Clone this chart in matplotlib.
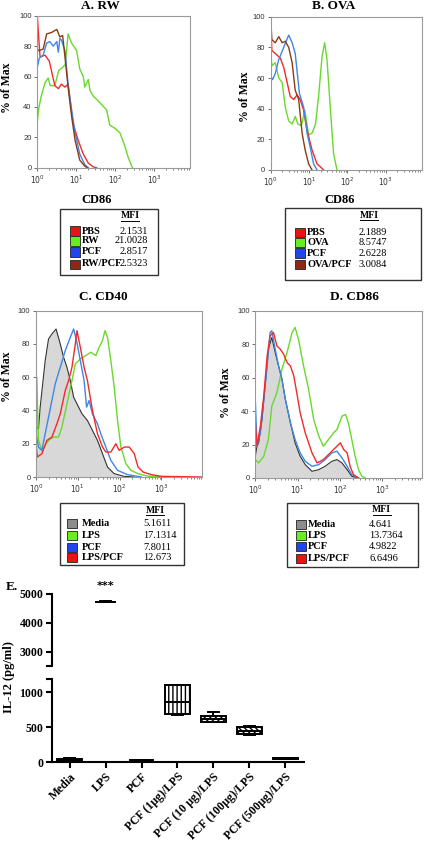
import numpy as np
import matplotlib
matplotlib.use("Agg")
import matplotlib.pyplot as plt
from matplotlib.patches import Rectangle
from matplotlib.lines import Line2D
from matplotlib.ticker import LogLocator, LogFormatterMathtext, NullFormatter

W, H = 424, 850
SERIF = ["Liberation Serif", "DejaVu Serif"]
SANS = ["Liberation Sans", "DejaVu Sans"]
plt.rcParams["hatch.linewidth"] = 1.0

RED = "#f22a2a"
GREEN = "#6ad82c"
BLUE = "#3f86e8"
BROWN = "#8a3b14"
GREY_LINE = "#333333"
GREY_FILL = "#d8d8d8"
SQ_RED, SQ_GREEN, SQ_BLUE, SQ_BROWN, SQ_GREY = "#ee1111", "#66ee22", "#2244ee", "#8b2a10", "#8c8c8c"

# ---- panel A (RW), x = log10(CD86), y = % of max
a_pbs_lx = [0, 0, 0.03, 0.07, 0.2, 0.31, 0.37, 0.45, 0.54, 0.62, 0.71, 0.79, 0.84, 0.92, 1.05, 1.18, 1.31, 1.44, 1.52]
a_pbs_y = [0, 100, 88, 73, 74, 70, 63, 54, 52, 55, 53, 55, 45, 29, 18, 9, 3, 0.5, 0]
a_rw_lx = [0, 0.03, 0.1, 0.2, 0.28, 0.33, 0.45, 0.55, 0.65, 0.72, 0.79, 0.88, 1.01, 1.09, 1.18, 1.22, 1.31, 1.35,
           1.44, 1.56, 1.78, 1.86, 1.99, 2.12, 2.25, 2.33, 2.44]
a_rw_y = [30, 38, 47, 56, 59, 54, 54, 64, 66, 68, 88, 82, 77, 65, 60, 53, 58, 51, 47, 44, 38, 28, 26, 23, 14, 7, 0]
a_pcf_lx = [0, 0.05, 0.15, 0.24, 0.32, 0.41, 0.5, 0.54, 0.58, 0.62, 0.71, 0.79, 0.88, 0.97, 1.09, 1.22, 1.31]
a_pcf_y = [66, 72, 74, 82, 83, 80, 83, 76, 85, 84, 77, 55, 38, 23, 9, 2, 0]
a_rwpcf_lx = [0, 0.03, 0.15, 0.24, 0.37, 0.5, 0.58, 0.65, 0.71, 0.79, 0.88, 0.97, 1.09, 1.22, 1.28]
a_rwpcf_y = [78, 77, 78, 88, 89, 91, 86, 87, 73, 53, 34, 18, 5, 1, 0]

# ---- panel B (OVA)
b_pbs_lx = [0, 0, 0.03, 0.12, 0.25, 0.34, 0.43, 0.51, 0.6, 0.69, 0.77, 0.86, 0.95, 1.08, 1.21, 1.3, 1.38]
b_pbs_y = [0, 98, 78, 76, 73, 67, 57, 48, 46, 49, 46, 39, 26, 13, 4, 2, 0]
b_ova_lx = [0, 0.03, 0.12, 0.21, 0.3, 0.38, 0.47, 0.56, 0.64, 0.71, 0.8, 0.89, 0.99, 1.08, 1.17, 1.25, 1.34, 1.41,
            1.47, 1.56, 1.64, 1.73]
b_ova_y = [78, 68, 70, 60, 57, 41, 32, 30, 35, 30, 29, 39, 23, 24, 30, 48, 74, 83, 72, 39, 11, 0]
b_pcf_lx = [0, 0.05, 0.12, 0.21, 0.34, 0.47, 0.56, 0.64, 0.75, 0.86, 0.95, 1.03, 1.12, 1.21]
b_pcf_y = [61, 59, 63, 72, 80, 88, 83, 76, 50, 41, 24, 15, 4, 0]
b_ovapcf_lx = [0, 0, 0.03, 0.12, 0.21, 0.3, 0.38, 0.47, 0.56, 0.64, 0.73, 0.82, 0.9, 0.99, 1.08]
b_ovapcf_y = [0, 99, 85, 83, 87, 83, 84, 80, 70, 52, 46, 24, 13, 4, 0]

# ---- panel C (CD40)
c_media_lx = [0, 0, 0.02, 0.06, 0.1, 0.16, 0.22, 0.3, 0.38, 0.48, 0.58, 0.66, 0.74, 0.82, 0.9, 0.98, 1.1, 1.23,
              1.35, 1.47, 1.59, 1.71, 1.87, 2.11, 2.35]
c_media_y = [0, 75, 30, 29, 42, 56, 70, 83, 86, 89, 80, 72, 66, 58, 48, 44, 38, 34, 28, 22, 14, 6, 2, 0.4, 0]
c_lps_lx = [0, 0.02, 0.06, 0.14, 0.3, 0.42, 0.54, 0.62, 0.74, 0.86, 0.94, 1.06, 1.19, 1.31, 1.43, 1.51, 1.59, 1.65,
            1.71, 1.79, 1.87, 1.95, 2.03, 2.15, 2.27, 2.44, 2.68, 3.16]
c_lps_y = [0, 60, 22, 16, 22, 24, 24, 30, 44, 58, 68, 71, 73, 75, 73, 78, 82, 88, 84, 70, 54, 34, 18, 8, 4, 2, 0.5, 0]
c_pcf_lx = [0, 0.06, 0.14, 0.22, 0.3, 0.38, 0.46, 0.58, 0.7, 0.82, 0.9, 0.97, 1.06, 1.15, 1.21, 1.27, 1.35, 1.47,
            1.55, 1.67, 1.79, 1.95, 2.19, 2.52]
c_pcf_y = [26, 18, 16, 26, 36, 46, 56, 66, 76, 84, 89, 82, 70, 58, 42, 46, 38, 32, 26, 18, 10, 4, 1.4, 0]
c_lpspcf_lx = [0, 0.03, 0.14, 0.26, 0.38, 0.5, 0.58, 0.7, 0.78, 0.86, 0.94, 0.98, 1.06, 1.15, 1.23, 1.35, 1.47,
               1.59, 1.67, 1.79, 1.91, 1.99, 2.11, 2.23, 2.35, 2.44, 2.56, 2.76, 3.0, 3.97]
c_lpspcf_y = [20, 12, 14, 22, 24, 32, 38, 52, 58, 66, 80, 88, 78, 66, 58, 40, 26, 18, 15, 15, 20, 16, 18, 18, 14,
              6, 3, 1.4, 0.4, 0]

# ---- panel D (CD86)
d_media_lx = [0, 0.04, 0.08, 0.16, 0.24, 0.31, 0.39, 0.47, 0.55, 0.63, 0.71, 0.83, 0.94, 1.06, 1.18, 1.34, 1.5,
              1.65, 1.81, 1.93, 2.05, 2.17, 2.28, 2.44]
d_media_y = [13, 19, 21, 35, 57, 77, 84, 75, 67, 59, 47, 33, 21, 13, 8, 4, 5, 7, 10, 11, 9, 5, 1, 0]
d_lps_lx = [0, 0.08, 0.2, 0.31, 0.39, 0.51, 0.63, 0.75, 0.87, 0.94, 1.02, 1.14, 1.26, 1.38, 1.5, 1.61, 1.73, 1.85,
            1.93, 2.05, 2.13, 2.2, 2.28, 2.36, 2.44, 2.52, 2.6]
d_lps_y = [11, 9, 13, 23, 43, 51, 65, 75, 87, 90, 83, 67, 53, 35, 25, 19, 23, 27, 29, 37, 38, 33, 23, 13, 5, 1, 0]
d_pcf_lx = [0, 0.04, 0.12, 0.2, 0.28, 0.35, 0.39, 0.47, 0.55, 0.63, 0.71, 0.83, 0.94, 1.06, 1.18, 1.34, 1.5, 1.65,
            1.81, 1.93, 2.05, 2.17, 2.28, 2.44]
d_pcf_y = [47, 19, 27, 47, 67, 87, 88, 77, 67, 59, 47, 33, 23, 15, 10, 7, 8, 11, 15, 16, 12, 7, 2, 0]
d_lpspcf_lx = [0, 0.04, 0.12, 0.2, 0.28, 0.35, 0.43, 0.51, 0.59, 0.67, 0.75, 0.83, 0.91, 0.98, 1.06, 1.18, 1.34,
               1.46, 1.61, 1.77, 1.93, 2.01, 2.09, 2.17, 2.24, 2.32, 2.44]
d_lpspcf_y = [33, 19, 31, 49, 73, 85, 87, 79, 77, 74, 69, 67, 61, 51, 39, 27, 15, 9, 11, 15, 19, 21, 17, 15, 7, 2, 0]

# ---- legends (MFI)
a_names = ["PBS", "RW", "PCF", "RW/PCF"]
a_mfi = ["2.1531", "21.0028", "2.8517", "2.5323"]
b_names = ["PBS", "OVA", "PCF", "OVA/PCF"]
b_mfi = ["2.1889", "8.5747", "2.6228", "3.0084"]
c_names = ["Media", "LPS", "PCF", "LPS/PCF"]
c_mfi = ["5.1611", "17.1314", "7.8011", "12.673"]
d_names = ["Media", "LPS", "PCF", "LPS/PCF"]
d_mfi = ["4.641", "13.7364", "4.9822", "6.6496"]

# ---- panel E, IL-12 (pg/ml)
e_labels = ["Media", "LPS", "PCF", "PCF (1µg)/LPS", "PCF (10 µg)/LPS", "PCF (100µg)/LPS", "PCF (500µg)/LPS"]
e_min = [25, 4725, 10, 676, 575, 395, 48]
e_q1 = [30, 4730, 15, 690, 582, 400, 52]
e_med = [40, 4735, 25, 857, 620, 450, 58]
e_q3 = [50, 4740, 35, 1100, 660, 500, 64]
e_max = [55, 4745, 40, 1105, 723, 515, 66]
e_hatch = [None, None, None, "||||", "//////", "\\\\\\\\\\\\", None]

fig = plt.figure(figsize=(W / 100, H / 100), dpi=100)


def px_axes(x0, y0, x1, y1):
    return fig.add_axes([x0 / W, 1 - y1 / H, (x1 - x0) / W, (y1 - y0) / H])


def ftext(x, y, s, **kw):
    kw.setdefault("family", SERIF)
    kw.setdefault("ha", "center")
    kw.setdefault("va", "center")
    fig.text(x / W, 1 - y / H, s, **kw)


def histo(rect, xmax_dec, curves, media=None):
    ax = px_axes(*rect)
    if media is not None:
        mx = 10 ** np.array(media[0])
        ax.fill_between(mx, media[1], color=GREY_FILL, lw=0)
        ax.plot(mx, media[1], color=GREY_LINE, lw=0.8)
    for lx, y, col in curves:
        ax.plot(10 ** np.array(lx), y, color=col, lw=1.0)
    ax.set_xscale("log")
    ax.set_xlim(1, 10 ** xmax_dec)
    ax.set_ylim(0, 100)
    ax.set_yticks([0, 20, 40, 60, 80, 100])
    ax.xaxis.set_major_locator(LogLocator(base=10, numticks=10))
    ax.xaxis.set_major_formatter(LogFormatterMathtext())
    ax.xaxis.set_minor_locator(LogLocator(base=10, subs=np.arange(2, 10), numticks=20))
    ax.xaxis.set_minor_formatter(NullFormatter())
    for sp in ax.spines.values():
        sp.set_color("#9a9a9a")
        sp.set_linewidth(0.8)
    ax.tick_params(axis="both", which="major", length=2.5, width=0.6, color="#555555",
                   labelsize=5.5, labelcolor="#333333", pad=1.5)
    ax.tick_params(axis="x", which="minor", length=1.5, width=0.5, color="#555555")
    for lab in ax.get_yticklabels():
        lab.set_family(SANS)
    return ax


histo((37.3, 15.7, 190, 167.7), 3.92,
      [(a_rw_lx, a_rw_y, GREEN), (a_pbs_lx, a_pbs_y, RED), (a_pcf_lx, a_pcf_y, BLUE),
       (a_rwpcf_lx, a_rwpcf_y, BROWN)])
histo((270.7, 16.7, 422, 170), 3.95,
      [(b_ova_lx, b_ova_y, GREEN), (b_pbs_lx, b_pbs_y, RED), (b_pcf_lx, b_pcf_y, BLUE),
       (b_ovapcf_lx, b_ovapcf_y, BROWN)])
histo((36, 310.7, 202, 477), 3.97,
      [(c_lps_lx, c_lps_y, GREEN), (c_pcf_lx, c_pcf_y, BLUE), (c_lpspcf_lx, c_lpspcf_y, RED)],
      media=(c_media_lx, c_media_y))
histo((255.3, 310.7, 422, 478), 3.94,
      [(d_lps_lx, d_lps_y, GREEN), (d_pcf_lx, d_pcf_y, BLUE), (d_lpspcf_lx, d_lpspcf_y, RED)],
      media=(d_media_lx, d_media_y))

# titles and axis labels
for x, y, s in [(100, 6, "A. RW"), (334, 6, "B. OVA"), (103, 297, "C. CD40"), (354, 297, "D. CD86")]:
    ftext(x, y, s, fontsize=9.5, weight="bold")
for x, y in [(97, 200), (340, 200)]:
    ftext(x, y, "CD86", fontsize=9, weight="bold")
for x, y in [(7, 88), (245, 97), (7, 377), (226, 393)]:
    ftext(x, y, "% of Max", fontsize=8.5, weight="bold", rotation=90)


def legend_box(box, mfi_x, rows_y, sq_x, name_x, val_x, val_ha, names, values, colors):
    x0, y0, x1, y1 = box
    fig.add_artist(Rectangle((x0 / W, 1 - y1 / H), (x1 - x0) / W, (y1 - y0) / H,
                             transform=fig.transFigure, fill=False, ec="#333333", lw=1.0))
    mfi_y = y0 + 7
    ftext(mfi_x, mfi_y, "MFI", fontsize=7, weight="bold")
    fig.add_artist(Line2D([(mfi_x - 9) / W, (mfi_x + 9) / W], [1 - (mfi_y + 5) / H] * 2,
                          transform=fig.transFigure, color="black", lw=0.7))
    for ry, nm, val, col in zip(rows_y, names, values, colors):
        fig.add_artist(Rectangle((sq_x / W, 1 - (ry + 4.5) / H), 10 / W, 9 / H,
                                 transform=fig.transFigure, fc=col, ec="#222222", lw=0.6))
        ftext(name_x, ry, nm, fontsize=7.5, weight="bold", ha="left")
        ftext(val_x, ry, val, fontsize=7.5, ha=val_ha)


legend_box((60, 209, 158, 275), 130, [231, 241, 252, 264], 70, 81.5, 147.5, "right",
           a_names, a_mfi, [SQ_RED, SQ_GREEN, SQ_BLUE, SQ_BROWN])
legend_box((284.7, 208, 421, 280), 369, [232.5, 242.5, 253, 264.5], 294.5, 307, 387, "right",
           b_names, b_mfi, [SQ_RED, SQ_GREEN, SQ_BLUE, SQ_BROWN])
legend_box((60, 503.3, 184, 565), 155, [523.5, 535.7, 547.5, 557.5], 66.7, 81.7, 143.3, "left",
           c_names, c_mfi, [SQ_GREY, SQ_GREEN, SQ_BLUE, SQ_RED])
legend_box((286.7, 502.7, 418.3, 566.7), 381.7, [524.3, 535.7, 546.7, 558.3], 296, 308, 369, "left",
           d_names, d_mfi, [SQ_GREY, SQ_GREEN, SQ_BLUE, SQ_RED])

# ---- panel E: broken y axis
stats = [dict(whislo=lo, q1=q1, med=md, q3=q3, whishi=hi, fliers=[])
         for lo, q1, md, q3, hi in zip(e_min, e_q1, e_med, e_q3, e_max)]
widths = [0.68, 0.58, 0.65, 0.7, 0.7, 0.7, 0.68]
pos = np.arange(len(e_labels))

ax_lo = px_axes(51.7, 679, 304, 762.3)
ax_hi = px_axes(51.7, 594, 304, 666)
for ax in (ax_lo, ax_hi):
    bp = ax.bxp(stats, positions=pos, widths=widths, patch_artist=True, showfliers=False,
                capwidths=0.3,
                boxprops=dict(facecolor="white", edgecolor="black", lw=1.4),
                medianprops=dict(color="black", lw=1.4),
                whiskerprops=dict(color="black", lw=1.4),
                capprops=dict(color="black", lw=1.4))
    for box, h in zip(bp["boxes"], e_hatch):
        if h:
            box.set_hatch(h)
    ax.set_xlim(-0.5, 6.52)
    for side in ("top", "right"):
        ax.spines[side].set_visible(False)
    for sp in ax.spines.values():
        sp.set_linewidth(1.5)
    ax.tick_params(axis="both", length=4, width=1.5, labelsize=8.5, pad=2)

ax_lo.set_ylim(0, 1190)
ax_lo.set_yticks([0, 500, 1000, 1190], ["0", "500", "1000", ""])
ax_lo.set_xticks(pos, e_labels, rotation=45, ha="right", rotation_mode="anchor")
ax_hi.set_ylim(2517, 5000)
ax_hi.set_yticks([2517, 3000, 4000, 5000], ["", "3000", "4000", "5000"])
ax_hi.spines["bottom"].set_visible(False)
ax_hi.set_xticks([])
for ax in (ax_lo, ax_hi):
    for lab in ax.get_xticklabels() + ax.get_yticklabels():
        lab.set_family(SERIF)
        lab.set_weight("bold")
ax_hi.text(1, 5270, "***", ha="center", va="center", fontsize=8, weight="bold", clip_on=False)

ftext(12, 587, "E.", fontsize=9.5, weight="bold")
ftext(9, 677, "IL-12 (pg/ml)", fontsize=9, weight="bold", rotation=90)

fig.savefig("out.png", dpi=100)
